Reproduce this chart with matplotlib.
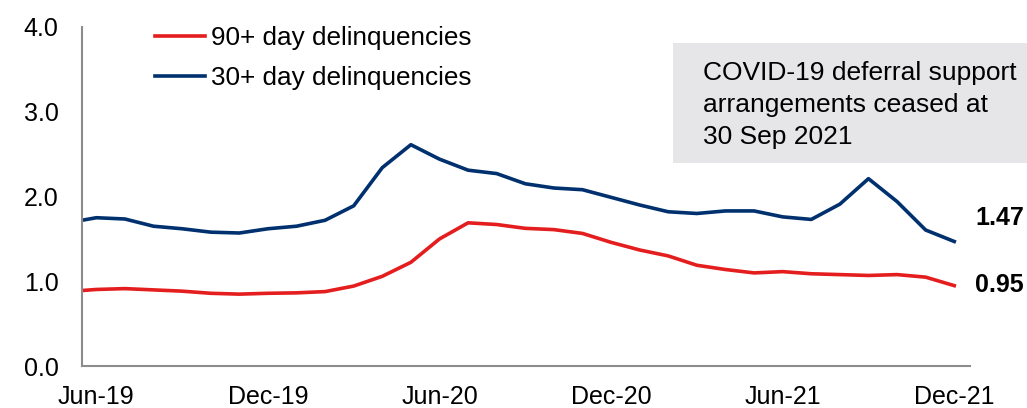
import matplotlib
matplotlib.use("Agg")
import matplotlib.pyplot as plt
from matplotlib.patches import Rectangle
import numpy as np

plt.rcParams['font.family'] = ['Liberation Sans', 'DejaVu Sans']

months = ["May-19", "Jun-19", "Jul-19", "Aug-19", "Sep-19", "Oct-19", "Nov-19", "Dec-19",
          "Jan-20", "Feb-20", "Mar-20", "Apr-20", "May-20", "Jun-20", "Jul-20", "Aug-20",
          "Sep-20", "Oct-20", "Nov-20", "Dec-20", "Jan-21", "Feb-21", "Mar-21", "Apr-21",
          "May-21", "Jun-21", "Jul-21", "Aug-21", "Sep-21", "Oct-21", "Nov-21", "Dec-21"]
d90 = [0.88, 0.905, 0.915, 0.90, 0.885, 0.86, 0.85, 0.86,
       0.865, 0.88, 0.945, 1.06, 1.225, 1.50, 1.69, 1.67,
       1.625, 1.61, 1.565, 1.46, 1.37, 1.30, 1.19, 1.14,
       1.10, 1.115, 1.09, 1.08, 1.07, 1.08, 1.05, 0.95]
d30 = [1.69, 1.75, 1.735, 1.65, 1.62, 1.58, 1.57, 1.62,
       1.65, 1.72, 1.89, 2.34, 2.61, 2.44, 2.31, 2.27,
       2.15, 2.10, 2.08, 1.99, 1.90, 1.82, 1.80, 1.83,
       1.83, 1.76, 1.73, 1.91, 2.21, 1.94, 1.605, 1.47]
tick_labels = ["Jun-19", "Dec-19", "Jun-20", "Dec-20", "Jun-21", "Dec-21"]
end_labels = ["1.47", "0.95"]
note = "COVID-19 deferral support\narrangements ceased at\n30 Sep 2021"

W, H = 1027, 408
fig = plt.figure(figsize=(W / 100, H / 100), dpi=100)
ax = fig.add_axes([82 / W, 1 - 366.3 / H, (970 - 82) / W, (366.3 - 26.7) / H])

x = np.arange(len(months)) - 1
red = '#E41E1E'
blue = '#00316E'
ax.plot(x, d90, color=red, lw=2.6, label='90+ day delinquencies', solid_joinstyle='round')
ax.plot(x, d30, color=blue, lw=2.6, label='30+ day delinquencies', solid_joinstyle='round')

ax.set_xlim(-0.5, 30.55)
ax.set_ylim(0, 4)
ax.set_yticks([0, 1, 2, 3, 4])
ax.set_yticklabels([f"{v:.1f}" for v in [0, 1, 2, 3, 4]])
ticks = [months.index(t) - 1 for t in tick_labels]
ax.set_xticks(ticks)
ax.set_xticklabels(tick_labels)
ax.tick_params(axis='both', length=0, labelsize=18, colors='black')
ax.tick_params(axis='y', pad=17)
ax.tick_params(axis='x', pad=13.5)
for s in ['top', 'right']:
    ax.spines[s].set_visible(False)
for s in ['left', 'bottom']:
    ax.spines[s].set_color('#8C8C8C')
    ax.spines[s].set_linewidth(1.5)

leg = ax.legend(loc='upper left', bbox_to_anchor=(155 / W, 1 - 26 / H), bbox_transform=fig.transFigure,
                frameon=False, fontsize=18.8, handlelength=1.9, handletextpad=0.25,
                labelspacing=0.62, borderaxespad=0, borderpad=0)

fig.patches.append(Rectangle((673 / W, 1 - 163 / H), (W - 673) / W, 120 / H,
                             transform=fig.transFigure, facecolor='#E6E5E8', edgecolor='none', zorder=0))
fig.text(703 / W, 1 - 61 / H, note, fontsize=19, va='top', ha='left', linespacing=1.42)

fig.text(975 / W, 1 - 218 / H, end_labels[0], fontsize=18, fontweight='bold', va='center', ha='left')
fig.text(975 / W, 1 - 285 / H, end_labels[1], fontsize=18, fontweight='bold', va='center', ha='left')

fig.savefig('out.png', dpi=100)
